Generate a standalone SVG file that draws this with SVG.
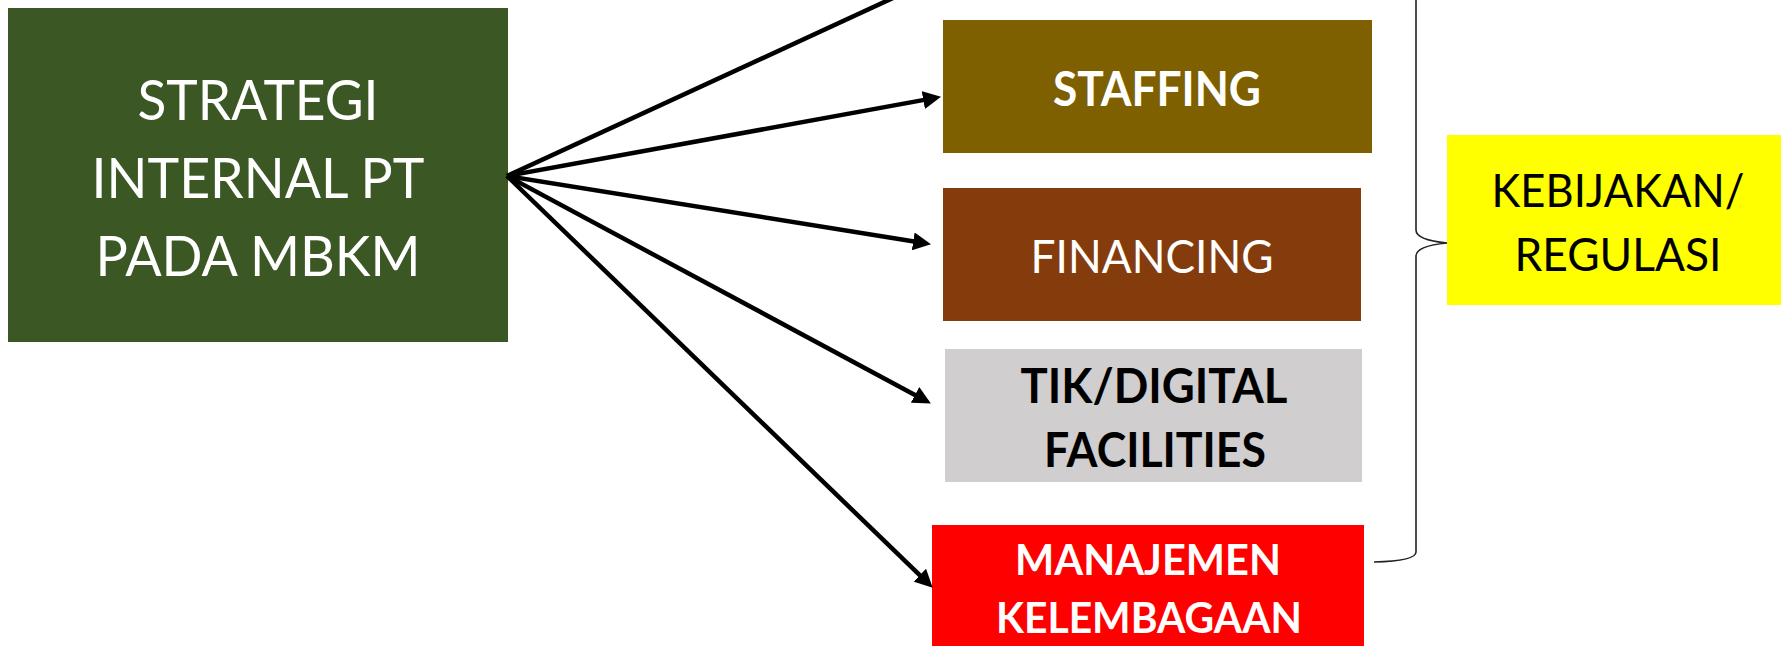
<svg xmlns="http://www.w3.org/2000/svg" width="1781" height="646" viewBox="0 0 1781 646">
  <style>
    .t { font-family: Lato, "Open Sans", "Liberation Sans", sans-serif; text-anchor: middle; }
    .w { fill: #FFFFFF; }
    .k { fill: #000000; }
    .b { font-weight: bold; }
    .conn { stroke: #000000; stroke-width: 4.5; fill: none; }
    .brace { stroke: #222222; stroke-width: 1.6; fill: none; }
  </style>
  <defs>
    <marker id="arrow" markerUnits="userSpaceOnUse" viewBox="0 0 18 18" markerWidth="18" markerHeight="18" refX="1" refY="9" orient="auto">
      <path d="M0,0 L18,9 L0,18 z" fill="#000000"/>
    </marker>
  </defs>
  <rect width="1781" height="646" fill="#FFFFFF"/>

  <g id="strategi">
    <rect x="8" y="8" width="500" height="334" fill="#3A5724"/>
    <text class="t w" font-size="57" x="258" y="120" textLength="241" lengthAdjust="spacingAndGlyphs">STRATEGI</text>
    <text class="t w" font-size="57" x="258" y="198" textLength="333" lengthAdjust="spacingAndGlyphs">INTERNAL PT</text>
    <text class="t w" font-size="57" x="258" y="276" textLength="325" lengthAdjust="spacingAndGlyphs">PADA MBKM</text>
  </g>

  <g id="staffing">
    <rect x="943" y="20" width="429" height="133" fill="#7F6000"/>
    <text class="t w b" font-size="47" x="1157" y="106" textLength="208" lengthAdjust="spacingAndGlyphs">STAFFING</text>
  </g>

  <g id="financing">
    <rect x="943" y="188" width="418" height="133" fill="#843C0C"/>
    <text class="t w" font-size="47" x="1152" y="273" textLength="243" lengthAdjust="spacingAndGlyphs">FINANCING</text>
  </g>

  <g id="tik">
    <rect x="945" y="349" width="417" height="133" fill="#D0CECE"/>
    <text class="t k b" font-size="47" x="1154" y="403" textLength="267" lengthAdjust="spacingAndGlyphs">TIK/DIGITAL</text>
    <text class="t k b" font-size="47" x="1155" y="467" textLength="222" lengthAdjust="spacingAndGlyphs">FACILITIES</text>
  </g>

  <g id="manajemen">
    <rect x="932" y="525" width="432" height="130" fill="#FF0000"/>
    <text class="t w b" font-size="42" x="1148" y="575" textLength="266" lengthAdjust="spacingAndGlyphs">MANAJEMEN</text>
    <text class="t w b" font-size="42" x="1149" y="633" textLength="306" lengthAdjust="spacingAndGlyphs">KELEMBAGAAN</text>
  </g>

  <g id="kebijakan">
    <rect x="1447" y="135" width="340" height="170" fill="#FFFF00"/>
    <text class="t k" font-size="47" x="1618" y="207" textLength="253" lengthAdjust="spacingAndGlyphs">KEBIJAKAN/</text>
    <text class="t k" font-size="47" x="1618" y="271" textLength="207" lengthAdjust="spacingAndGlyphs">REGULASI</text>
  </g>

  <g id="connectors">
    <line class="conn" x1="507" y1="176" x2="932" y2="-20"/>
    <line class="conn" x1="507" y1="176" x2="924.3" y2="99.9" marker-end="url(#arrow)"/>
    <line class="conn" x1="507" y1="176" x2="914.2" y2="241.5" marker-end="url(#arrow)"/>
    <line class="conn" x1="507" y1="176" x2="915.9" y2="395.4" marker-end="url(#arrow)"/>
    <line class="conn" x1="507" y1="176" x2="920.5" y2="575.9" marker-end="url(#arrow)"/>
    <path class="brace" d="M1416,-20 V230 Q1416,240 1447,243 Q1416,246 1416,256 V552 Q1416,561 1374,562"/>
  </g>
</svg>
